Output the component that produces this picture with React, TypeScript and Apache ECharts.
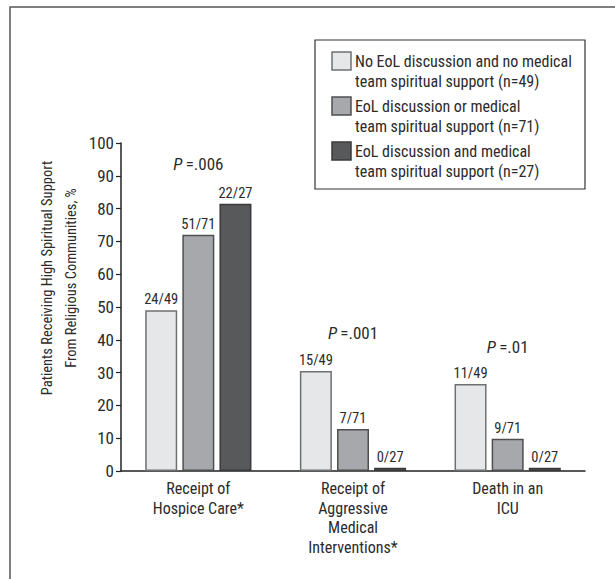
import React, { useEffect, useRef } from "react";
import * as echarts from "echarts";

const categories = [
  "Receipt of\nHospice Care*",
  "Receipt of\nAggressive\nMedical\nInterventions*",
  "Death in an\nICU",
];
const seriesNames = [
  "No EoL discussion and no medical\nteam spiritual support (n=49)",
  "EoL discussion or medical\nteam spiritual support (n=71)",
  "EoL discussion and medical\nteam spiritual support (n=27)",
];
const noneValues = [49, 30.5, 26.5];
const eitherValues = [72, 12.8, 9.8];
const bothValues = [81.5, 1, 1];
const noneLabels = ["24/49", "15/49", "11/49"];
const eitherLabels = ["51/71", "7/71", "9/71"];
const bothLabels = ["22/27", "0/27", "0/27"];
const pValues = ["=.006", "=.001", "=.01"];
const pHeights = [93.5, 42, 37.8];
const yTicks = [0, 10, 20, 30, 40, 50, 60, 70, 80, 90, 100];
const yTitle = "Patients Receiving High Spiritual Support\nFrom Religious Communities, %";

const FONT = '"Liberation Sans Narrow", "Arial Narrow", "Roboto Condensed", sans-serif';
const TXT = "#2b2b2b";
const fills = ["#e6e7e9", "#a7a8ab", "#58595b"];
const borders = ["#6f7072", "#4e4f51", "#3a3a3c"];

export default function App() {
  const ref = useRef<HTMLDivElement>(null);
  useEffect(() => {
    document.body.style.margin = "0";
    if (!ref.current) return;
    const chart = echarts.init(ref.current, undefined, { renderer: "svg" });
    const values = [noneValues, eitherValues, bothValues];
    const labels = [noneLabels, eitherLabels, bothLabels];
    const series: any[] = values.map((vals, si) => ({
      type: "bar",
      name: seriesNames[si],
      data: vals,
      barWidth: 32,
      barGap: "16%",
      itemStyle: { color: fills[si], borderColor: borders[si], borderWidth: 1.5 },
      label: {
        show: true,
        position: "top",
        distance: 3,
        fontFamily: FONT,
        fontSize: 14.5,
        color: TXT,
        formatter: (p: any) => labels[si][p.dataIndex],
      },
      markPoint:
        si === 1
          ? {
              symbol: "circle",
              symbolSize: 0,
              silent: true,
              data: pValues.map((pv, i) => ({
                coord: [i, pHeights[i]],
                value: pv,
              })),
              label: {
                show: true,
                position: "inside",
                formatter: (p: any) => "{i|P}{n|\u2009" + p.value + "}",
                rich: {
                  i: { fontFamily: FONT, fontSize: 17, fontStyle: "italic", color: TXT },
                  n: { fontFamily: FONT, fontSize: 17, color: TXT },
                },
              },
            }
          : undefined,
    }));

    const legendItems: any[] = [];
    seriesNames.forEach((n, i) => {
      legendItems.push({
        type: "rect",
        shape: { x: 332, y: 52 + 45 * i, width: 19, height: 18 },
        style: { fill: fills[i], stroke: borders[i], lineWidth: 1.5 },
      });
      legendItems.push({
        type: "text",
        x: 355,
        y: 51 + 45 * i,
        style: {
          text: n,
          fontFamily: FONT,
          fontSize: 16,
          lineHeight: 20,
          fill: TXT,
          verticalAlign: "top",
        },
      });
    });

    chart.setOption({
      animation: false,
      grid: { left: 121, top: 143, width: 464, height: 328, containLabel: false },
      xAxis: {
        type: "category",
        data: categories,
        axisLine: { lineStyle: { color: "#222", width: 1.5 } },
        axisTick: { show: false },
        axisLabel: {
          fontFamily: FONT,
          fontSize: 16,
          lineHeight: 19.5,
          color: TXT,
          margin: 8,
          interval: 0,
        },
      },
      yAxis: {
        type: "value",
        min: 0,
        max: 100,
        interval: 10,
        axisLine: { show: true, lineStyle: { color: "#222", width: 1.5 } },
        axisTick: { show: true, length: 5, lineStyle: { color: "#222", width: 1.2 } },
        splitLine: { show: false },
        axisLabel: {
          fontFamily: FONT,
          fontSize: 17,
          color: TXT,
          margin: 7,
          formatter: (v: number) => (yTicks.includes(v) ? String(v) : ""),
        },
      },
      series,
      graphic: [
        {
          type: "rect",
          shape: { x: 10, y: 7, width: 800, height: 800 },
          style: { fill: "none", stroke: "#555", lineWidth: 1.5 },
          silent: true,
        },
        {
          type: "rect",
          shape: { x: 315, y: 40, width: 270, height: 149 },
          style: { fill: "#fff", stroke: "#333", lineWidth: 1.2 },
        },
        ...legendItems,
        {
          type: "text",
          x: 59,
          y: 278,
          rotation: Math.PI / 2,
          style: {
            text: yTitle,
            fontFamily: FONT,
            fontSize: 14.5,
            lineHeight: 24,
            fill: TXT,
            align: "center",
            verticalAlign: "middle",
          },
        },
      ],
    });
    return () => chart.dispose();
  }, []);
  return <div ref={ref} style={{ width: 615, height: 579, position: "absolute", left: 0, top: 0 }} />;
}
